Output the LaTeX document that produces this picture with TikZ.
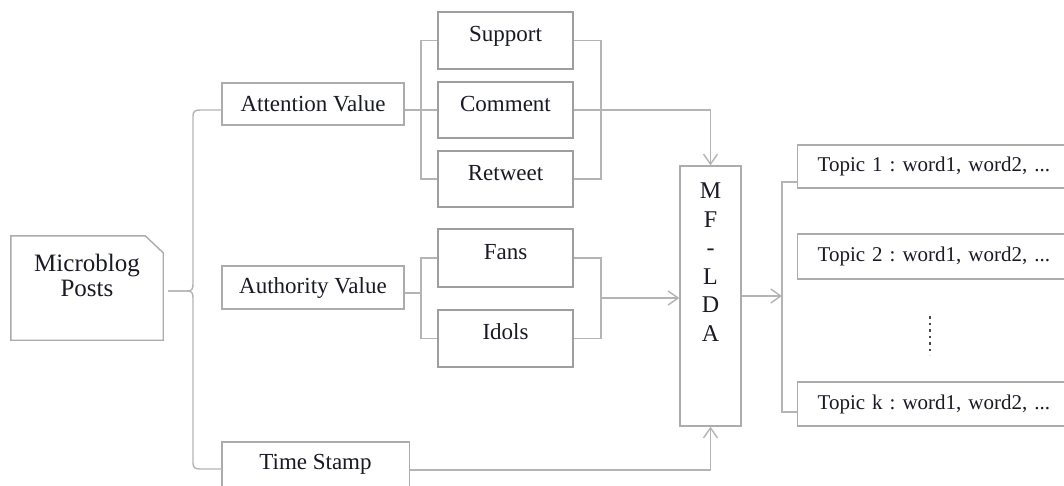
\documentclass[tikz,border=0pt]{standalone}
\usepackage{fontspec}
\setmainfont{Liberation Serif}
\usetikzlibrary{arrows.meta}
\definecolor{linegray}{RGB}{180,180,180}
\definecolor{boxgray}{RGB}{172,172,172}
\definecolor{darkbox}{RGB}{158,158,158}
\definecolor{inkc}{RGB}{25,25,40}
\frenchspacing
\begin{document}
\begin{tikzpicture}[x=1pt,y=-1pt,
  txt/.style={text=inkc, font=\fontsize{23}{26}\selectfont},
  box/.style={txt, draw=boxgray, line width=1.4pt, inner sep=0pt},
  thickbox/.style={txt, draw=darkbox, line width=2.6pt, inner sep=0pt,
    minimum width=135pt, text height=0.7em, text depth=0.45em},
  topicbox/.style={box, font=\fontsize{21}{24}\selectfont, anchor=west,
    minimum width=300pt, inner xsep=20pt, text width=260pt, align=left},
  conn/.style={draw=linegray, line width=1.4pt},
  arr/.style={conn, -{Straight Barb[length=10pt,width=14pt,line width=1.4pt]}}
]
\fill[white] (0,0) rectangle (1064,485);
\clip (0,0) rectangle (1064,485);

% source document with folded corner
\node[minimum width=152pt, minimum height=104pt] (mb) at (87,288) {};
\draw[draw=boxgray, line width=1.4pt] (mb.south west) -- (mb.north west)
  -- ([xshift=-18pt]mb.north east) -- ([yshift=-17pt]mb.north east)
  -- (mb.south east) -- cycle;
\node[text=inkc, font=\fontsize{25}{25}\selectfont, align=center] (mbtext) at (87,275) {Microblog\\Posts};

% feature boxes
\node[box, minimum width=182pt, minimum height=42pt] (att) at (313,104) {Attention Value};
\node[box, minimum width=182pt, minimum height=43pt] (auth) at (313,287.5) {Authority Value};
\node[txt, minimum width=187pt, minimum height=44pt] (ts) at (315.5,464) {Time Stamp};
\draw[draw=boxgray, line width=1.4pt] ([yshift=-12pt]ts.south west) -- (ts.north west)
  -- (ts.north east) -- ([yshift=-12pt]ts.south east);

\node[thickbox, minimum height=57pt] (sup) at (505.5,40.5) {Support};
\node[thickbox, minimum height=56pt] (com) at (505.5,110) {Comment};
\node[thickbox, minimum height=56pt] (ret) at (505.5,179) {Retweet};
\node[thickbox, minimum height=58pt] (fans) at (505.5,258) {Fans};
\node[thickbox, minimum height=57pt] (idols) at (505.5,338.5) {Idols};

% model
\node[box, minimum width=61pt, minimum height=260pt] (mf) at (710.5,296) {};
\node[text=inkc, font=\fontsize{24}{28.5}\selectfont, align=center] (mftext) at (710.5,262) {M\\F\\-\\L\\D\\A};

% topics
\node[topicbox, minimum height=43pt] (t1) at (797,166.5) {Topic 1 : word1, word2, ...};
\node[topicbox, minimum height=45pt] (t2) at (797,256.5) {Topic 2 : word1, word2, ...};
\node[topicbox, minimum height=44pt] (tk) at (797,404) {Topic k : word1, word2, ...};
\coordinate (d1) at (930,316);
\coordinate (d2) at (930,355);
\draw[draw=inkc!80, line width=2.6pt, dash pattern=on 2.6pt off 3.9pt] (d1) -- (d2);

% brace from the posts
\coordinate (brL) at (168,291);
\draw[conn] (brL) -- (187,291) .. controls (192,291) and (193,289) .. (193,284)
  -- (193,116) .. controls (193,111.5) and (195,110) .. (200,110) -- ([yshift=-6pt]att.west);
\draw[conn] (brL) -- (187,291) .. controls (192,291) and (193,293) .. (193,298)
  -- (193,463) .. controls (193,467.5) and (195,469) .. (200,469) -- ([yshift=-5pt]ts.west);

% attention group
\coordinate (aL) at (421,110);
\coordinate (aR) at (601,110);
\draw[conn] ([yshift=-6pt]att.east) -- (com.west);
\draw[conn] (sup.west) -| (aL) |- (ret.west);
\draw[conn] (sup.east) -| (aR) |- (ret.east);
\draw[arr] (com.east) -| (mf.north);

% authority group
\coordinate (bL) at (421,293);
\coordinate (bR) at (601,298);
\draw[conn] ([yshift=-5.5pt]auth.east) -- (bL);
\draw[conn] (fans.west) -| (bL) |- (idols.west);
\draw[conn] (fans.east) -| (bR) |- (idols.east);
\draw[arr] (bR) -- (bR -| mf.west);

% time stamp
\draw[arr] ([yshift=-6pt]ts.east) -| (mf.south);

% model to topics
\coordinate (tB) at (782,296);
\draw[arr] (mf.east) -- (tB);
\draw[conn] ([yshift=-15.5pt]t1.west) -| (tB) |- ([yshift=-8pt]tk.west);
\end{tikzpicture}
\end{document}
